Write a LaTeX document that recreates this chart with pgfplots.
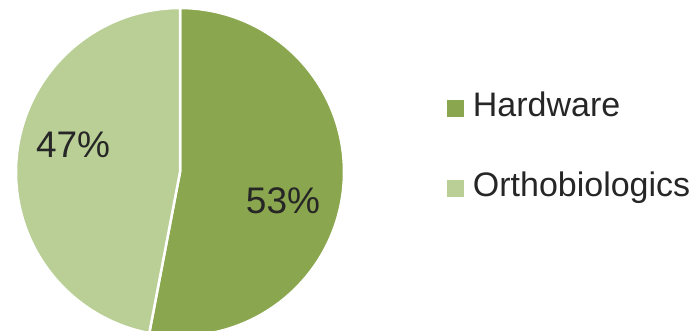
\documentclass[border=0pt]{standalone}
\usepackage{fontspec}
\setmainfont{Liberation Sans}
\usepackage{pgfplots}
\usepackage{pgfplotstable}
\pgfplotsset{compat=1.18}
\definecolor{hw}{HTML}{8AA74F}
\definecolor{ob}{HTML}{B9CF96}
\definecolor{txt}{HTML}{262626}
\pgfplotstableread{
label value
Hardware 53
Orthobiologics 47
}\piedata
\begin{document}
\begin{tikzpicture}
\pgfplotstablegetelem{0}{value}\of\piedata\let\va\pgfplotsretval
\pgfplotstablegetelem{1}{value}\of\piedata\let\vb\pgfplotsretval
\pgfmathsetmacro{\aEnd}{90-(360/(\va+\vb))*\va}
\useasboundingbox (0,0) rectangle (695pt,330pt);
\clip (0,0) rectangle (695pt,330pt);
\begin{axis}[
  at={(180pt,158pt)}, anchor=center,
  width=328pt, height=328pt, scale only axis,
  xmin=-1, xmax=1, ymin=-1, ymax=1,
  hide axis,
  legend style={draw=none, fill=none, at={(1.313,0.572)}, anchor=west,
    inner sep=0pt, font=\fontsize{34}{40}\selectfont, text=txt,
    nodes={inner sep=0pt, anchor=west, text height=24pt, text depth=7pt},
    row sep=49pt},
  legend cell align=left,
  legend image code/.code={\fill[#1, draw=none] (0pt,-8.5pt) rectangle (17pt,8.5pt);},
]
\addplot[fill=hw, draw=white, line width=2.5pt, domain=\aEnd:90, samples=200, variable=\t]
  ({cos(t)},{sin(t)}) -- (axis cs:0,0) -- cycle;
\addlegendentry{\hspace{9pt}Hardware}
\addplot[fill=ob, draw=white, line width=2.5pt, domain=90:\aEnd+360, samples=200, variable=\t]
  ({cos(t)},{sin(t)}) -- (axis cs:0,0) -- cycle;
\addlegendentry{\hspace{9pt}Orthobiologics}
\node[text=txt, font=\fontsize{37}{42}\selectfont] at (axis cs:0.628,-0.176) {53\%};
\node[text=txt, font=\fontsize{37}{42}\selectfont] at (axis cs:-0.652,0.165) {47\%};
\end{axis}
\end{tikzpicture}
\end{document}
